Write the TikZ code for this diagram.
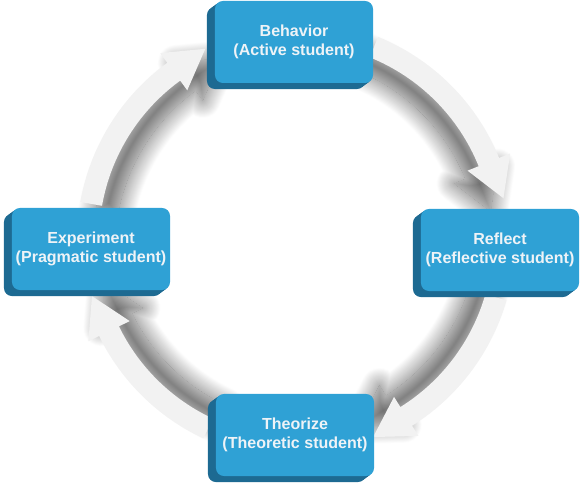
\documentclass[tikz,border=0pt]{standalone}
\usepackage{fontspec}
\setsansfont{Liberation Sans}
\usetikzlibrary{calc,shadows.blur}
\definecolor{facecol}{RGB}{47,161,213}
\definecolor{sidecol}{RGB}{29,106,146}
\definecolor{ringcol}{RGB}{242,242,242}
\definecolor{labelcol}{RGB}{238,243,247}

\begin{document}
\begin{tikzpicture}[x=.025cm, y=.025cm,
	face/.style={rounded corners=.2cm, minimum width=3.95cm, minimum height=2.05cm, inner sep=0pt,
		fill=facecol, text=labelcol, align=center, font=\sffamily\bfseries\fontsize{11.4}{13.7}\selectfont,
		preaction={fill=sidecol, transform canvas={shift={(-5.7pt,-4.3pt)}}},
		preaction={fill=sidecol, transform canvas={shift={(-4.3pt,-3.2pt)}}},
		preaction={fill=sidecol, transform canvas={shift={(-2.8pt,-2.1pt)}}},
		preaction={fill=sidecol, transform canvas={shift={(-1.4pt,-1.1pt)}}}}]
	\useasboundingbox (0,0) rectangle (580,484);
	\coordinate (hub) at (296,244);

	\begin{scope}[shift={(hub)}]
	\foreach \a/\e [evaluate=\a as \sx using {-13*cos((\a+\e)/2)}, evaluate=\a as \sy using {-13*sin((\a+\e)/2)}] in {170/126, 68/22, -16/-58, -115/-154}
		\fill[ringcol, blur shadow={shadow xshift=\sx pt, shadow yshift=\sy pt, shadow blur radius=13pt, shadow blur steps=40, shadow opacity=62}]
			(\a:219) arc[start angle=\a, end angle=\e, radius=219] -- (\e:231)
			-- ($(\e:208)+(\e-90:39)$) -- (\e:185) -- (\e:197)
			arc[start angle=\e, end angle=\a, radius=197] -- cycle;
	\end{scope}

	\node[face] (behav) at (294,442) {Behavior\\(Active student)};
	\node[face] (refl) at (500,234) {Reflect\\(Reflective student)};
	\node[face] (theor) at (295,49) {Theorize\\(Theoretic student)};
	\node[face] (exper) at (91,235) {Experiment\\(Pragmatic student)};
\end{tikzpicture}
\end{document}
